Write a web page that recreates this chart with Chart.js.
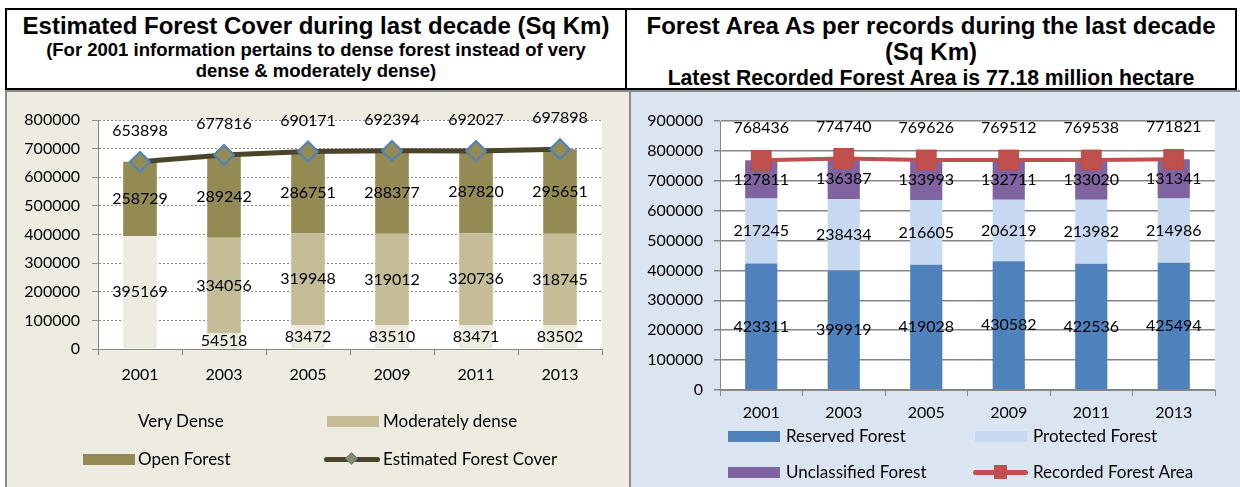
<!DOCTYPE html>
<html>
<head>
<meta charset="utf-8">
<script src="https://cdn.jsdelivr.net/npm/chart.js@4.4.1/dist/chart.umd.min.js"></script>
<style>
  body { margin: 0; width: 1240px; height: 487px; background: #fff; position: relative; overflow: hidden; font-family: Lato, sans-serif; }
  .titlebox { position: absolute; left: 5px; top: 8px; width: 1232px; height: 82px; border: 2px solid #000; box-sizing: border-box; }
  .divider { position: absolute; left: 618px; top: 0; width: 2px; height: 100%; background: #000; }
  .tline { position: absolute; text-align: center; font-family: "Liberation Sans", Arial, sans-serif; font-weight: bold; color: #000; white-space: nowrap; line-height: 26px; }
  .panel { position: absolute; top: 90px; height: 397px; box-sizing: border-box; border-top: 2px solid #8a8a8a; }
  #panelL { left: 5px; width: 626px; background: #eeece1; border-left: 2px solid #8a8a8a; border-right: 2px solid #8a8a8a; }
  #panelR { left: 631px; width: 609px; background: #dbe5f1; }
  canvas { position: absolute; }
  .leg { position: absolute; font-size: 17px; color: #000; line-height: 20px; white-space: nowrap; }
  .sw { position: absolute; height: 11px; width: 52px; }
</style>
</head>
<body>
<div class="titlebox">
  <div class="divider"></div>
  <div class="tline" style="left:0;width:618px;top:3px;font-size:24px;">Estimated Forest Cover during last decade (Sq Km)</div>
  <div class="tline" style="left:0;width:618px;top:27px;font-size:18.5px;">(For 2001 information pertains to dense forest instead of very</div>
  <div class="tline" style="left:0;width:618px;top:48px;font-size:18.5px;">dense &amp; moderately dense)</div>
  <div class="tline" style="left:620px;width:608px;top:3px;font-size:24px;">Forest Area As per records during the last decade</div>
  <div class="tline" style="left:620px;width:608px;top:29px;font-size:24px;">(Sq Km)</div>
  <div class="tline" style="left:620px;width:608px;top:55px;font-size:21.2px;">Latest Recorded Forest Area is 77.18 million hectare</div>
</div>
<div class="panel" id="panelL"></div>
<div class="panel" id="panelR"></div>

<canvas id="leftChart" width="621" height="395" style="left:8px;top:92px;"></canvas>
<canvas id="rightChart" width="609" height="395" style="left:631px;top:92px;"></canvas>

<!-- left legend -->
<div class="sw" style="left:83px;top:416px;background:#eeece1;"></div>
<div class="leg" style="left:138px;top:411px;">Very Dense</div>
<div class="sw" style="left:327px;top:416px;background:#c4bd97;"></div>
<div class="leg" style="left:383px;top:411px;">Moderately dense</div>
<div class="sw" style="left:83px;top:454px;background:#948a54;"></div>
<div class="leg" style="left:138px;top:449px;">Open Forest</div>
<div style="position:absolute;left:324px;top:457px;width:56px;height:5px;background:#4a452a;border-radius:3px;"></div>
<div style="position:absolute;left:347px;top:454px;width:7px;height:7px;background:#948a54;border:1.5px solid #4f81bd;transform:rotate(45deg);"></div>
<div class="leg" style="left:383px;top:449px;">Estimated Forest Cover</div>

<!-- right legend -->
<div class="sw" style="left:728px;top:431px;background:#4f81bd;"></div>
<div class="leg" style="left:786px;top:426px;">Reserved Forest</div>
<div class="sw" style="left:975px;top:431px;background:#c6d9f1;"></div>
<div class="leg" style="left:1033px;top:426px;">Protected Forest</div>
<div class="sw" style="left:728px;top:467px;background:#8064a2;"></div>
<div class="leg" style="left:786px;top:462px;">Unclassified Forest</div>
<div style="position:absolute;left:973px;top:470px;width:55px;height:5px;background:#c0504d;border-radius:3px;"></div>
<div style="position:absolute;left:994px;top:465px;width:13px;height:14px;background:#c0504d;"></div>
<div class="leg" style="left:1033px;top:462px;">Recorded Forest Area</div>

<script>
const years = ["2001", "2003", "2005", "2009", "2011", "2013"];

// left chart: estimated forest cover (sq km)
const veryDense = [395169, 54518, 83472, 83510, 83471, 83502];
const moderatelyDense = [null, 334056, 319948, 319012, 320736, 318745];
const openForest = [258729, 289242, 286751, 288377, 287820, 295651];
const estimatedCover = [653898, 677816, 690171, 692394, 692027, 697898];

// right chart: recorded forest area (sq km)
const reservedForest = [423311, 399919, 419028, 430582, 422536, 425494];
const protectedForest = [217245, 238434, 216605, 206219, 213982, 214986];
const unclassifiedForest = [127811, 136387, 133993, 132711, 133020, 131341];
const recordedArea = [768436, 774740, 769626, 769512, 769538, 771821];

const tickFont = { family: "Lato", size: 16 };
const plainNumber = v => String(v);

// white plot area
const plotBackground = {
  id: "plotBackground",
  beforeDraw(chart) {
    const { ctx, chartArea: a } = chart;
    ctx.save();
    ctx.fillStyle = "#fff";
    ctx.fillRect(a.left, a.top, a.right - a.left, a.bottom - a.top);
    ctx.restore();
  }
};

// value labels: centre of bar segments, above line points
const valueLabels = {
  id: "valueLabels",
  afterDatasetsDraw(chart, args, opts) {
    const ctx = chart.ctx;
    ctx.save();
    ctx.font = "16px Lato";
    ctx.fillStyle = "#000";
    ctx.textAlign = "center";
    ctx.textBaseline = "middle";
    chart.data.datasets.forEach((ds, i) => {
      const meta = chart.getDatasetMeta(i);
      meta.data.forEach((el, j) => {
        const v = ds.data[j];
        if (v == null) return;
        const y = meta.type === "bar" ? (el.y + el.base) / 2 : el.y - opts.lineOffset;
        ctx.fillText(String(v), el.x, y);
      });
    });
    ctx.restore();
  }
};

new Chart(document.getElementById("leftChart"), {
  type: "bar",
  data: {
    labels: years,
    datasets: [
      {
        type: "line", label: "Estimated Forest Cover", data: estimatedCover, stack: "total", order: 0,
        borderColor: "#4a452a", borderWidth: 5, tension: 0,
        pointStyle: "rectRot", pointRadius: 10, pointBackgroundColor: "#948a54",
        pointBorderColor: "#4f81bd", pointBorderWidth: 2
      },
      { label: "Very Dense", data: veryDense, backgroundColor: "#eeece1", stack: "bars", order: 1 },
      { label: "Moderately dense", data: moderatelyDense, backgroundColor: "#c4bd97", stack: "bars", order: 1 },
      { label: "Open Forest", data: openForest, backgroundColor: "#948a54", stack: "bars", order: 1 }
    ]
  },
  options: {
    responsive: false,
    animation: false,
    layout: { padding: { left: 10, right: 27, top: 28, bottom: 88 } },
    datasets: { bar: { categoryPercentage: 1, barPercentage: 0.4 } },
    plugins: { legend: { display: false }, tooltip: { enabled: false }, valueLabels: { lineOffset: 31 } },
    scales: {
      x: {
        stacked: true,
        grid: { offset: true, drawOnChartArea: false, tickLength: 6, color: "#868686" },
        border: { color: "#868686" },
        ticks: { font: tickFont, color: "#000", padding: 10 },
        afterFit: s => { s.height = 50; }
      },
      y: {
        stacked: true, min: 0, max: 800000,
        grid: { color: "#8c8c8c", tickLength: 6, tickBorderDash: [] },
        border: { color: "#868686", dash: [2, 2] },
        ticks: { stepSize: 100000, font: tickFont, color: "#000", padding: 12, callback: plainNumber },
        afterFit: s => { s.width = 80; }
      }
    }
  },
  plugins: [plotBackground, valueLabels]
});

new Chart(document.getElementById("rightChart"), {
  type: "bar",
  data: {
    labels: years,
    datasets: [
      {
        type: "line", label: "Recorded Forest Area", data: recordedArea, stack: "total", order: 0,
        borderColor: "#c0504d", borderWidth: 4, tension: 0,
        pointStyle: "rect", pointRadius: 14, pointBackgroundColor: "#c0504d",
        pointBorderColor: "#be4b48", pointBorderWidth: 1
      },
      { label: "Reserved Forest", data: reservedForest, backgroundColor: "#4f81bd", stack: "bars", order: 1 },
      { label: "Protected Forest", data: protectedForest, backgroundColor: "#c6d9f1", stack: "bars", order: 1 },
      { label: "Unclassified Forest", data: unclassifiedForest, backgroundColor: "#8064a2", stack: "bars", order: 1 }
    ]
  },
  options: {
    responsive: false,
    animation: false,
    layout: { padding: { left: 9, right: 25, top: 29, bottom: 57 } },
    datasets: { bar: { categoryPercentage: 1, barPercentage: 0.39 } },
    plugins: { legend: { display: false }, tooltip: { enabled: false }, valueLabels: { lineOffset: 32 } },
    scales: {
      x: {
        stacked: true,
        grid: { offset: true, drawOnChartArea: false, tickLength: 6, color: "#868686" },
        border: { color: "#868686" },
        ticks: { font: tickFont, color: "#000", padding: 7 },
        afterFit: s => { s.height = 40; }
      },
      y: {
        stacked: true, min: 0, max: 900000,
        grid: { color: "#868686", lineWidth: 1.5, tickLength: 6 },
        border: { color: "#868686" },
        ticks: { stepSize: 100000, font: tickFont, color: "#000", padding: 11, callback: plainNumber },
        afterFit: s => { s.width = 80; }
      }
    }
  },
  plugins: [plotBackground, valueLabels]
});
</script>
</body>
</html>
